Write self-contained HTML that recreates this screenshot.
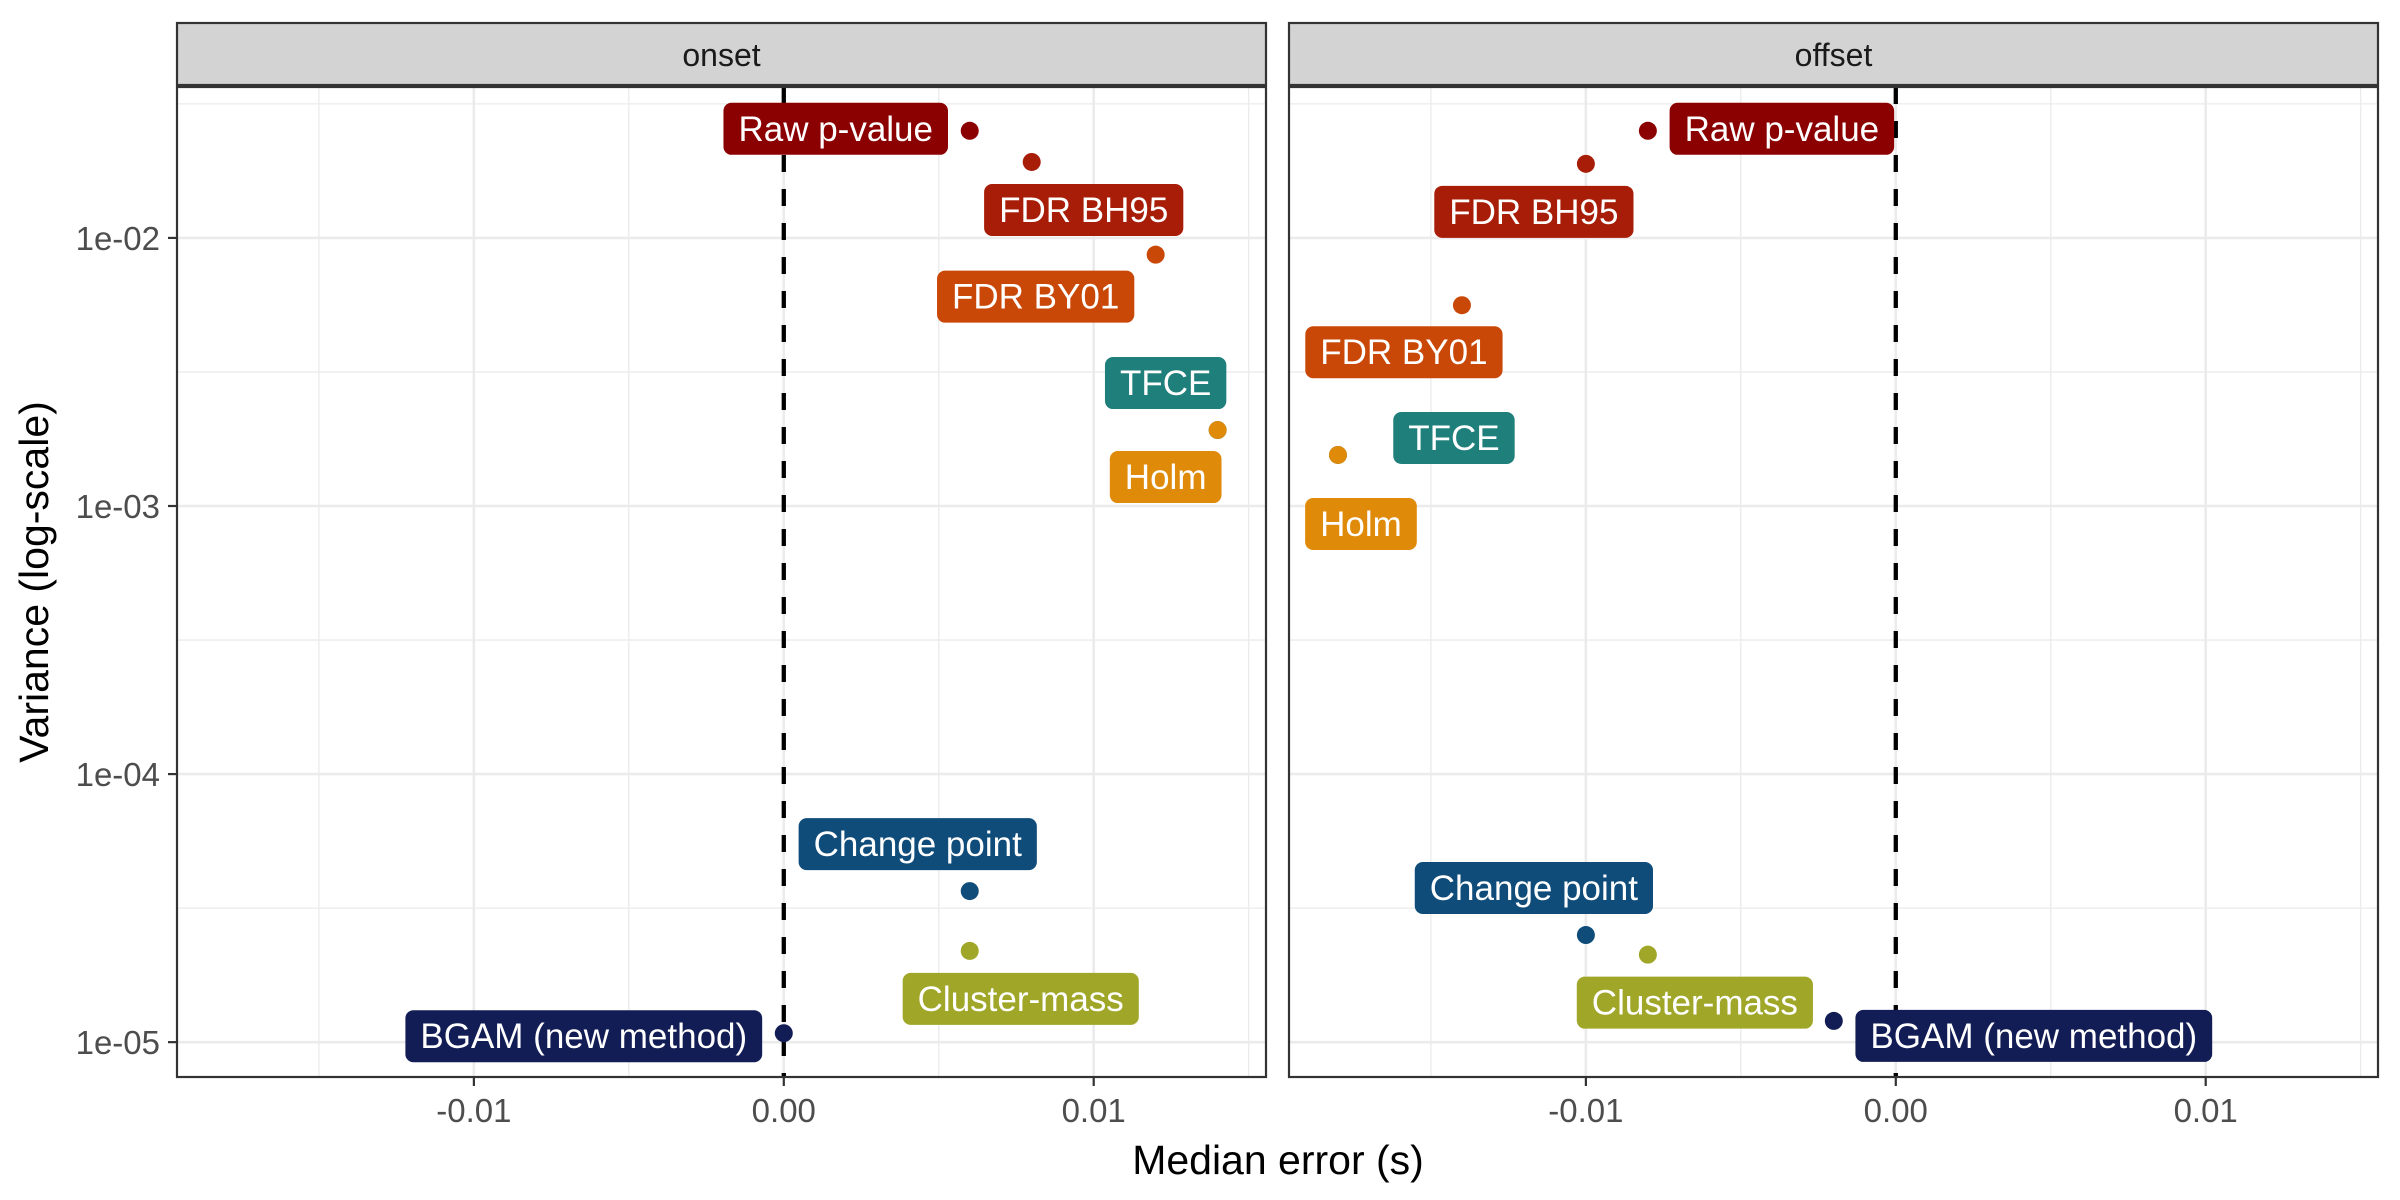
<!DOCTYPE html>
<html><head><meta charset="utf-8"><style>
html,body{margin:0;padding:0;background:#fff}
svg{display:block}
text{font-family:"Liberation Sans",sans-serif}
</style></head><body>
<svg id="chart" width="2400" height="1200" viewBox="0 0 2400 1200" xmlns="http://www.w3.org/2000/svg">
<rect x="0" y="0" width="2400" height="1200" fill="#fff"/>
<g id="root"></g>
</svg>
<script>
// ---- data ----
const methods = ["Raw p-value","FDR BH95","FDR BY01","TFCE","Holm","Change point","Cluster-mass","BGAM (new method)"];
const onsetError = [0.006, 0.008, 0.012, 0.014, 0.014, 0.006, 0.006, 0.000];
const onsetVariance = [0.0251, 0.0192, 0.00866, 0.00192, 0.00192, 3.66e-5, 2.19e-5, 1.08e-5];
const offsetError = [-0.008, -0.010, -0.014, -0.018, -0.018, -0.010, -0.008, -0.002];
const offsetVariance = [0.0251, 0.0189, 0.00561, 0.00155, 0.00155, 2.51e-5, 2.12e-5, 1.20e-5];
const xTicks = [-0.01, 0.00, 0.01];
const xTickLabels = ["-0.01","0.00","0.01"];
const yTicks = [1e-2, 1e-3, 1e-4, 1e-5];
const yTickLabels = ["1e-02","1e-03","1e-04","1e-05"];
const panelNames = ["onset","offset"];

// ---- styling / layout ----
const colors = ["#8b0000","#a81d07","#c94807","#1f7f7a","#e08a0a","#0f4c7a","#a0a628","#131d55"];
// label center offsets from point (repel positions, pixels)
const onsetLabelOff = [[-134,-2],[52,48],[-120,42],[-52,-47],[-52,47],[-52,-47],[51,48],[-200,3]];
const offsetLabelOff = [[134,-2],[-52,48],[-58,47],[116,-17],[23,69],[-52,-47],[47,48],[200,15]];
const panels = [{x0:177,x1:1266},{x0:1289,x1:2378}];
const pTop = 87, pBot = 1077, stripTop = 23;
const xMin = -0.01958, xMax = 0.01556;
const yMinL = -5.13, yMaxL = -1.437;
const NS = "http://www.w3.org/2000/svg";
const root = document.getElementById('root');
function mk(tag, attrs, parent){const e=document.createElementNS(NS,tag);for(const k in attrs)e.setAttribute(k,attrs[k]);(parent||root).appendChild(e);return e;}
function xScale(p,v){return p.x0+(v-xMin)/(xMax-xMin)*(p.x1-p.x0);}
function yScale(v){return pBot-(Math.log10(v)-yMinL)/(yMaxL-yMinL)*(pBot-pTop);}

const errs=[onsetError,offsetError], vars=[onsetVariance,offsetVariance], offs=[onsetLabelOff,offsetLabelOff];
panels.forEach((p,pi)=>{
  const g=mk('g',{});
  
  
  [-0.015,-0.005,0.005,0.015].forEach(v=>{const X=xScale(p,v);const l=mk('line',{x1:X,x2:X,y1:pTop,y2:pBot,stroke:'#ebebeb','stroke-width':1.3},g);
    
    });
  for(let k=-5.5;k<=-1;k+=1){const Y=yScale(Math.pow(10,k));if(Y<pTop||Y>pBot)continue;const l=mk('line',{x1:p.x0,x2:p.x1,y1:Y,y2:Y,stroke:'#ebebeb','stroke-width':1.3},g);
    
    }
  xTicks.forEach(v=>{const X=xScale(p,v);const l=mk('line',{x1:X,x2:X,y1:pTop,y2:pBot,stroke:'#ebebeb','stroke-width':2.6},g);
    
    });
  yTicks.forEach(v=>{const Y=yScale(v);const l=mk('line',{x1:p.x0,x2:p.x1,y1:Y,y2:Y,stroke:'#ebebeb','stroke-width':2.6},g);
    
    });
  const z=xScale(p,0);
  const zl=mk('line',{x1:z,x2:z,y1:pTop,y2:pBot,stroke:'#000','stroke-width':4.3,'stroke-dasharray':'17 17'},g);
  
  
  methods.forEach((m,i)=>{
    const c=mk('circle',{cx:xScale(p,errs[pi][i]),cy:yScale(vars[pi][i]),r:9,fill:colors[i]},g);
    
    
  });
  methods.forEach((m,i)=>{
    const cx=xScale(p,errs[pi][i])+offs[pi][i][0], cy=yScale(vars[pi][i])+offs[pi][i][1];
    const lg=mk('g',{},g);
    
    
    const t=mk('text',{x:cx,y:cy+12,'text-anchor':'middle','font-size':35,fill:'#fff'},lg);
    t.textContent=m;
    const w=t.getComputedTextLength()+30;
    const r=mk('rect',{x:cx-w/2,y:cy-26,width:w,height:52,rx:8,fill:colors[i]});
    lg.insertBefore(r,t);
  });
  const b=mk('rect',{x:p.x0,y:pTop,width:p.x1-p.x0,height:pBot-pTop,fill:'none',stroke:'#333','stroke-width':2.2},g);
  
  
  const s=mk('rect',{x:p.x0,y:stripTop,width:p.x1-p.x0,height:pTop-stripTop-2,fill:'#d3d3d3',stroke:'#333','stroke-width':2.2},g);
  
  
  const st=mk('text',{x:(p.x0+p.x1)/2,y:66,'text-anchor':'middle','font-size':32,fill:'#1a1a1a'},g);
  st.textContent=panelNames[pi];
  
  
  xTicks.forEach((v,i)=>{const X=xScale(p,v);
    const tl=mk('line',{x1:X,x2:X,y1:pBot,y2:pBot+9,stroke:'#333','stroke-width':2.2},g);
    
    
    const tt=mk('text',{x:X,y:pBot+45,'text-anchor':'middle','font-size':33,fill:'#4d4d4d'},g);
    tt.textContent=xTickLabels[i];
    
    });
});
yTicks.forEach((v,i)=>{const Y=yScale(v);
  const tl=mk('line',{x1:168,x2:177,y1:Y,y2:Y,stroke:'#333','stroke-width':2.2});
  
  
  const tt=mk('text',{x:160,y:Y+12,'text-anchor':'end','font-size':33,fill:'#4d4d4d'});
  tt.textContent=yTickLabels[i];
  
  });
const yt=mk('text',{x:0,y:0,'text-anchor':'middle','font-size':41,fill:'#000',transform:'translate(48,582) rotate(-90)'});
yt.textContent='Variance (log-scale)';


const xt=mk('text',{x:1278,y:1174,'text-anchor':'middle','font-size':41,fill:'#000'});
xt.textContent='Median error (s)';


</script>
</body></html>
